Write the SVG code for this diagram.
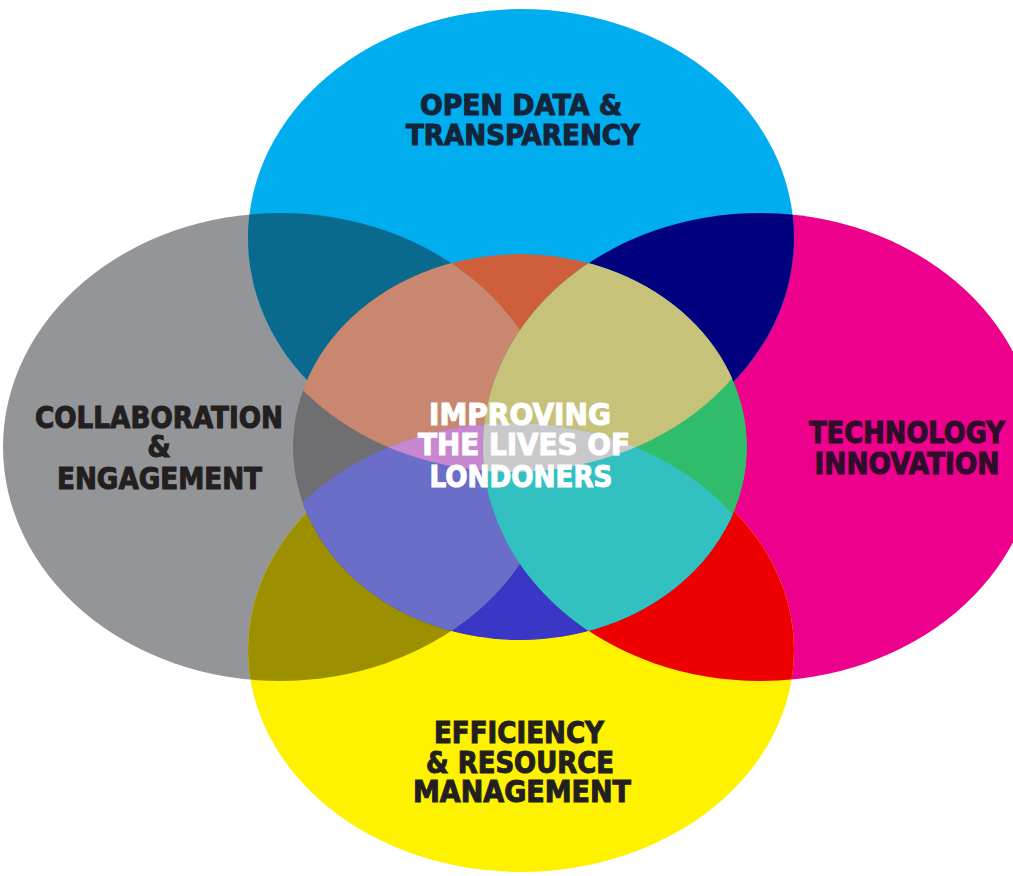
<svg xmlns="http://www.w3.org/2000/svg" width="1013" height="876" viewBox="0 0 1013 876">
<defs>
<clipPath id="cT"><ellipse cx="521" cy="238" rx="273" ry="229"/></clipPath>
<clipPath id="cB"><ellipse cx="521" cy="650" rx="273" ry="222"/></clipPath>
<clipPath id="cT2"><ellipse cx="512" cy="243" rx="273" ry="229"/></clipPath>
<clipPath id="cL"><ellipse cx="280" cy="447" rx="277" ry="234"/></clipPath>
<clipPath id="cR"><ellipse cx="760" cy="447" rx="277" ry="234"/></clipPath>
<clipPath id="cE"><ellipse cx="520" cy="447" rx="227" ry="193"/></clipPath>
<style>
text{font-family:"Liberation Sans Narrow","DejaVu Sans Condensed","Liberation Sans",Arial,sans-serif;font-weight:bold;text-anchor:middle;stroke-width:1}
.t28{font-size:28px}
.t30{font-size:30px}
</style>
</defs>
<rect width="1013" height="876" fill="#ffffff"/>
<g id="shapes">
<ellipse id="gray" cx="280" cy="447" rx="277" ry="234" fill="#939598"/>
<ellipse id="magenta" cx="760" cy="447" rx="277" ry="234" fill="#ec008c"/>
<ellipse id="cyan" cx="521" cy="238" rx="273" ry="229" fill="#00aeef"/>
<ellipse id="yellow" cx="521" cy="650" rx="273" ry="222" fill="#fff200"/>
<g clip-path="url(#cT)">
<ellipse cx="280" cy="447" rx="277" ry="234" fill="#0a6a8e"/>
<ellipse cx="760" cy="447" rx="277" ry="234" fill="#01017f"/>
</g>
<g clip-path="url(#cB)">
<ellipse cx="280" cy="447" rx="277" ry="234" fill="#9c9000"/>
<ellipse cx="760" cy="447" rx="277" ry="234" fill="#ee0000"/>
</g>
<g clip-path="url(#cE)">
<ellipse cx="520" cy="447" rx="227" ry="193" fill="#cf5f3c"/>
<ellipse cx="512" cy="645" rx="273" ry="222" fill="#3a36c6"/>
<g clip-path="url(#cL)">
<ellipse cx="520" cy="447" rx="227" ry="193" fill="#6f6f72"/>
<ellipse cx="512" cy="243" rx="273" ry="229" fill="#c8876e"/>
<ellipse cx="512" cy="645" rx="273" ry="222" fill="#6a6ec8"/>
<g clip-path="url(#cT2)"><ellipse cx="512" cy="645" rx="273" ry="222" fill="#c888d0"/></g>
</g>
<g clip-path="url(#cR)">
<ellipse cx="520" cy="447" rx="227" ry="193" fill="#2fbd6c"/>
<ellipse cx="512" cy="243" rx="273" ry="229" fill="#c7c27a"/>
<ellipse cx="512" cy="645" rx="273" ry="222" fill="#33c0c0"/>
<g clip-path="url(#cT2)"><ellipse cx="512" cy="645" rx="273" ry="222" fill="#c9c9cc"/></g>
</g>
</g>
</g>
<g id="node-top" fill="#13243b" stroke="#13243b">
<text class="t28" x="521" y="115" textLength="202" lengthAdjust="spacingAndGlyphs">OPEN DATA &amp;</text>
<text class="t28" x="523" y="145" textLength="234" lengthAdjust="spacingAndGlyphs">TRANSPARENCY</text>
</g>
<g id="node-left" fill="#231f20" stroke="#231f20">
<text class="t30" x="159" y="428" textLength="248" lengthAdjust="spacingAndGlyphs">COLLABORATION</text>
<text class="t30" x="159" y="457">&amp;</text>
<text class="t30" x="159.5" y="489" textLength="205" lengthAdjust="spacingAndGlyphs">ENGAGEMENT</text>
</g>
<g id="node-right" fill="#2e0c2a" stroke="#2e0c2a">
<text class="t30" x="907" y="443" textLength="196" lengthAdjust="spacingAndGlyphs">TECHNOLOGY</text>
<text class="t30" x="907" y="474" textLength="185" lengthAdjust="spacingAndGlyphs">INNOVATION</text>
</g>
<g id="node-bottom" fill="#231f20" stroke="#231f20">
<text class="t30" x="519" y="743" textLength="170" lengthAdjust="spacingAndGlyphs">EFFICIENCY</text>
<text class="t30" x="520" y="773" textLength="188" lengthAdjust="spacingAndGlyphs">&amp; RESOURCE</text>
<text class="t30" x="522" y="802" textLength="218" lengthAdjust="spacingAndGlyphs">MANAGEMENT</text>
</g>
<g id="node-center" fill="#ffffff" stroke="#ffffff">
<text class="t30" x="520" y="425" textLength="182" lengthAdjust="spacingAndGlyphs">IMPROVING</text>
<text class="t30" x="524" y="455" textLength="212" lengthAdjust="spacingAndGlyphs">THE LIVES OF</text>
<text class="t30" x="521" y="487" textLength="183" lengthAdjust="spacingAndGlyphs">LONDONERS</text>
</g>
</svg>
